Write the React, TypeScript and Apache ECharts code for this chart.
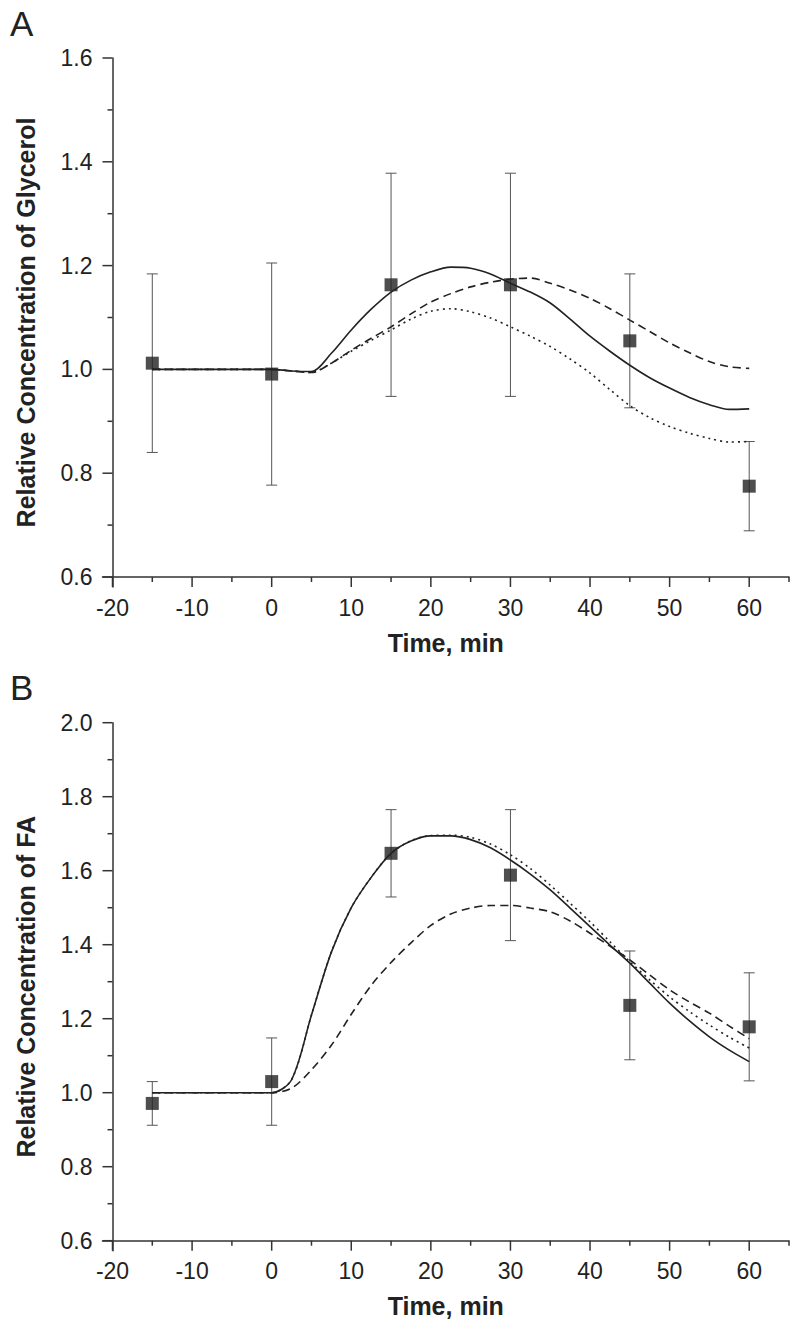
import React, { useEffect, useRef } from "react";
import * as echarts from "echarts";

// Observed data (mean ± SD)
const obsTime = [-15, 0, 15, 30, 45, 60];
const glyMean = [1.012, 0.991, 1.163, 1.163, 1.055, 0.775];
const glyErr = [0.172, 0.214, 0.215, 0.215, 0.129, 0.086];
const faMean = [0.971, 1.03, 1.647, 1.588, 1.236, 1.178];
const faErr = [0.059, 0.118, 0.118, 0.177, 0.147, 0.146];

// Model curves, sampled every 2.5 min from -15 to 60
const curveTime = [-15, -12.5, -10, -7.5, -5, -2.5, 0, 2.5, 5, 7.5, 10, 12.5, 15, 17.5, 20, 22.5, 25, 27.5, 30, 32.5, 35, 37.5, 40, 42.5, 45, 47.5, 50, 52.5, 55, 57.5, 60];
const glySolid = [1, 1, 1, 1, 1, 1, 1.0, 0.997, 0.996, 1.031, 1.076, 1.116, 1.149, 1.172, 1.188, 1.197, 1.195, 1.184, 1.166, 1.149, 1.128, 1.097, 1.064, 1.035, 1.008, 0.984, 0.964, 0.946, 0.932, 0.923, 0.924];
const glyDashed = [1, 1, 1, 1, 1, 1, 1.0, 0.997, 0.994, 1.012, 1.037, 1.06, 1.082, 1.107, 1.13, 1.146, 1.159, 1.168, 1.174, 1.176, 1.166, 1.153, 1.137, 1.117, 1.095, 1.073, 1.051, 1.032, 1.015, 1.005, 1.002];
const glyDotted = [1, 1, 1, 1, 1, 1, 1.0, 0.997, 0.994, 1.012, 1.035, 1.056, 1.076, 1.097, 1.112, 1.117, 1.111, 1.099, 1.082, 1.064, 1.044, 1.02, 0.993, 0.961, 0.93, 0.907, 0.89, 0.877, 0.867, 0.86, 0.861];
const faSolid = [1, 1, 1, 1, 1, 1, 1.0, 1.035, 1.21, 1.38, 1.5, 1.582, 1.647, 1.68, 1.694, 1.694, 1.684, 1.662, 1.629, 1.591, 1.548, 1.499, 1.449, 1.399, 1.35, 1.296, 1.242, 1.194, 1.151, 1.115, 1.084];
const faDashed = [1, 1, 1, 1, 1, 1, 1.0, 1.012, 1.062, 1.128, 1.212, 1.29, 1.352, 1.405, 1.452, 1.483, 1.499, 1.506, 1.506, 1.499, 1.489, 1.464, 1.431, 1.396, 1.359, 1.318, 1.278, 1.245, 1.215, 1.18, 1.146];
const faDotted = [1, 1, 1, 1, 1, 1, 1.0, 1.035, 1.21, 1.38, 1.5, 1.582, 1.647, 1.681, 1.695, 1.696, 1.69, 1.672, 1.643, 1.606, 1.561, 1.512, 1.462, 1.408, 1.354, 1.305, 1.259, 1.219, 1.183, 1.15, 1.121];

// Axis ticks / labels
const xMajorTicks = [-20, -10, 0, 10, 20, 30, 40, 50, 60];
const xMinorTicks = [-15, -5, 5, 15, 25, 35, 45, 55, 65];
const yMajorTicksA = [0.6, 0.8, 1.0, 1.2, 1.4, 1.6];
const yMinorTicksA = [0.7, 0.9, 1.1, 1.3, 1.5];
const yMajorTicksB = [0.6, 0.8, 1.0, 1.2, 1.4, 1.6, 1.8, 2.0];
const yMinorTicksB = [0.7, 0.9, 1.1, 1.3, 1.5, 1.7, 1.9];

const FONT = "'Liberation Sans', Arial, Helvetica, sans-serif";
const INK = "#222";
const AXIS = "#333";
const X_MIN = -20;
const X_MAX = 65;
const Y_MIN = 0.6;
const MAJOR = 10;
const MINOR = 5;

function zip(xs: number[], ys: number[]) {
  return xs.map((x, i) => [x, ys[i]]);
}

const errRender = (_params: any, api: any) => {
  const x = api.value(0);
  const m = api.value(1);
  const e = api.value(2);
  const top = api.coord([x, m + e]);
  const bot = api.coord([x, m - e]);
  const w = 5.5;
  const style = { stroke: "#555", lineWidth: 1, fill: "none" };
  return {
    type: "group",
    children: [
      { type: "line", shape: { x1: top[0], y1: top[1], x2: bot[0], y2: bot[1] }, style },
      { type: "line", shape: { x1: top[0] - w, y1: top[1], x2: top[0] + w, y2: top[1] }, style },
      { type: "line", shape: { x1: bot[0] - w, y1: bot[1], x2: bot[0] + w, y2: bot[1] }, style },
    ],
  };
};

// x-axis tick: data = [t, y0, length]
const xTickRender = (_params: any, api: any) => {
  const p = api.coord([api.value(0), api.value(1)]);
  const len = api.value(2);
  return {
    type: "group",
    children: [
      { type: "line", shape: { x1: p[0], y1: p[1], x2: p[0], y2: p[1] + len }, style: { stroke: AXIS, lineWidth: 1.5, fill: "none" } },
    ],
  };
};
// y-axis tick: data = [x0, v, length]
const yTickRender = (_params: any, api: any) => {
  const p = api.coord([api.value(0), api.value(1)]);
  const len = api.value(2);
  return {
    type: "group",
    children: [
      { type: "line", shape: { x1: p[0], y1: p[1], x2: p[0] - len, y2: p[1] }, style: { stroke: AXIS, lineWidth: 1.5, fill: "none" } },
    ],
  };
};

export default function App() {
  const ref = useRef<HTMLDivElement>(null);
  useEffect(() => {
    document.body.style.margin = "0";
    if (!ref.current) return;
    const chart = echarts.init(ref.current, undefined, { renderer: "svg" });

    const L = 112.5;
    const W = 676.5;
    const pxPerMin = W / (X_MAX - X_MIN);
    const panels = [
      { top: 58, height: 519, ymax: 1.6, name: "Relative Concentration of Glycerol", yMajor: yMajorTicksA, yMinor: yMinorTicksA },
      { top: 722.7, height: 518, ymax: 2.0, name: "Relative Concentration of FA", yMajor: yMajorTicksB, yMinor: yMinorTicksB },
    ];

    const grids: any[] = [];
    const xAxes: any[] = [];
    const yAxes: any[] = [];
    const series: any[] = [];

    // Each grid is extended by the tick length to the left and bottom so the
    // outward ticks lie inside it; the axes are pulled back onto the plot edge.
    panels.forEach((p, i) => {
      const pxPerUnit = p.height / (p.ymax - Y_MIN);
      grids.push({ left: L - MAJOR, top: p.top, width: W + MAJOR, height: p.height + MAJOR });
      xAxes.push({
        type: "value",
        gridIndex: i,
        min: X_MIN - MAJOR / pxPerMin,
        max: X_MAX,
        offset: -MAJOR,
        name: "Time, min",
        nameLocation: "middle",
        nameGap: 53,
        nameTextStyle: { fontFamily: FONT, fontSize: 25, fontWeight: "bold", color: INK },
        axisLine: { show: true, onZero: false, lineStyle: { color: AXIS, width: 1.5 } },
        axisTick: { show: false },
        axisLabel: {
          show: true,
          customValues: xMajorTicks,
          margin: 19,
          fontFamily: FONT,
          fontSize: 23,
          color: INK,
          formatter: (v: number) => String(Math.round(v)),
        },
        splitLine: { show: false },
      });
      yAxes.push({
        type: "value",
        gridIndex: i,
        min: Y_MIN - MAJOR / pxPerUnit,
        max: p.ymax,
        offset: -MAJOR,
        name: p.name,
        nameLocation: "middle",
        nameGap: 74,
        nameRotate: 90,
        nameTextStyle: { fontFamily: FONT, fontSize: 25, fontWeight: "bold", color: INK },
        axisLine: { show: true, onZero: false, lineStyle: { color: AXIS, width: 1.5 } },
        axisTick: { show: false },
        axisLabel: {
          customValues: p.yMajor,
          margin: 20,
          fontFamily: FONT,
          fontSize: 23,
          color: INK,
          formatter: (v: number) => v.toFixed(1),
        },
        splitLine: { show: false },
      });
      series.push({
        type: "custom",
        xAxisIndex: i,
        yAxisIndex: i,
        renderItem: xTickRender,
        data: [...xMajorTicks.map((v) => [v, Y_MIN, MAJOR]), ...xMinorTicks.map((v) => [v, Y_MIN, MINOR])],
        encode: { x: 0, y: 1 },
        z: 2,
      });
      series.push({
        type: "custom",
        xAxisIndex: i,
        yAxisIndex: i,
        renderItem: yTickRender,
        data: [...p.yMajor.map((v) => [X_MIN, v, MAJOR]), ...p.yMinor.map((v) => [X_MIN, v, MINOR])],
        encode: { x: 0, y: 1 },
        z: 2,
      });
    });

    const curve = (i: number, ys: number[], type: any) => ({
      type: "line",
      xAxisIndex: i,
      yAxisIndex: i,
      data: zip(curveTime, ys),
      showSymbol: false,
      symbol: "none",
      smooth: 0.3,
      z: 3,
      lineStyle: { color: INK, width: 1.6, type },
    });
    const errSeries = (i: number, mean: number[], err: number[]) => ({
      type: "custom",
      xAxisIndex: i,
      yAxisIndex: i,
      renderItem: errRender,
      data: obsTime.map((t, k) => [t, mean[k], err[k]]),
      encode: { x: 0, y: 1 },
      z: 1,
    });
    const pts = (i: number, mean: number[]) => ({
      type: "scatter",
      xAxisIndex: i,
      yAxisIndex: i,
      data: zip(obsTime, mean),
      symbol: "rect",
      symbolSize: 13,
      itemStyle: { color: INK },
      z: 5,
    });

    series.push(
      errSeries(0, glyMean, glyErr),
      curve(0, glySolid, "solid"),
      curve(0, glyDashed, [8, 5]),
      curve(0, glyDotted, [2, 4]),
      pts(0, glyMean),
      errSeries(1, faMean, faErr),
      curve(1, faSolid, "solid"),
      curve(1, faDashed, [8, 5]),
      curve(1, faDotted, [2, 4]),
      pts(1, faMean)
    );

    chart.setOption({
      animation: false,
      backgroundColor: "#fff",
      grid: grids,
      xAxis: xAxes,
      yAxis: yAxes,
      graphic: [
        { type: "text", left: 10, top: 6, style: { text: "A", fontFamily: FONT, fontSize: 35, fill: INK } },
        { type: "text", left: 10, top: 670, style: { text: "B", fontFamily: FONT, fontSize: 35, fill: INK } },
      ],
      series,
    });
    return () => chart.dispose();
  }, []);
  return <div ref={ref} style={{ width: 800, height: 1332 }} />;
}
